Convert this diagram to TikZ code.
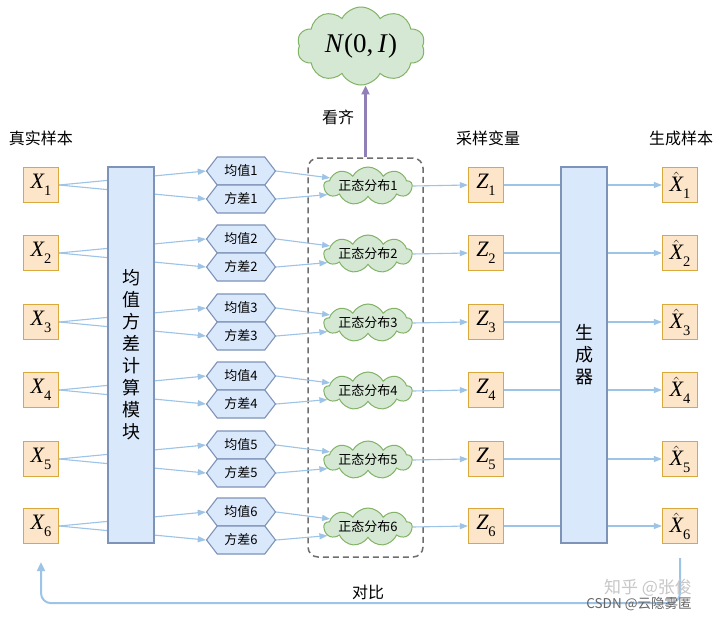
\documentclass[tikz,border=0pt]{standalone}
\usepackage{fontspec}
\newfontfamily\cjk{Noto Sans CJK SC}
\newfontfamily\tms{Liberation Serif}
\usetikzlibrary{shapes.symbols,arrows.meta}
\newcommand\vsym[2]{{\tms\itshape #1}\raisebox{-0.3em}{\tms\fontsize{14.5}{15}\selectfont #2}}
\newcommand\hsym[2]{$\hat{\mbox{\tms\itshape #1}}$\raisebox{-0.3em}{\tms\fontsize{14.5}{15}\selectfont #2}}
\definecolor{xfill}{HTML}{FCE5C8}
\definecolor{xline}{HTML}{D9A93C}
\definecolor{bfill}{HTML}{DAE8FC}
\definecolor{bline}{HTML}{7D93B8}
\definecolor{gfill}{HTML}{D5E8D4}
\definecolor{gline}{HTML}{82B366}
\definecolor{arr}{HTML}{9DC3E6}
\definecolor{purp}{HTML}{9180B8}
\definecolor{dashc}{HTML}{6E6E6E}
\tikzset{
  xbox/.style={draw=xline, fill=xfill, line width=1.3pt, minimum width=35pt, minimum height=35pt, inner sep=0pt, font=\fontsize{22}{24}\selectfont},
  hexn/.style={shape=signal, signal to=west and east, signal pointer angle=105, draw=bline, fill=bfill, line width=1.1pt, minimum width=69pt, minimum height=28pt, inner sep=1pt, font=\cjk\fontsize{13}{14}\selectfont},
  cloudn/.style={shape=cloud, cloud puffs=9, cloud puff arc=125, cloud ignores aspect, draw=gline, fill=gfill, line width=1pt, inner sep=0pt},
  colbox/.style={draw=bline, fill=bfill, line width=1.1pt, minimum width=46pt, minimum height=376pt, inner sep=0pt, align=center, font=\cjk\fontsize{18}{22}\selectfont},
  bl/.style={draw=arr, line width=1.1pt, -{Triangle[length=8pt,width=6pt]}},
  lab/.style={font=\cjk\fontsize{16}{18}\selectfont, inner sep=0pt},
}
\begin{document}
\begin{tikzpicture}[x=1pt,y=-1pt]
\useasboundingbox[fill=white] (0,0) rectangle (720,621);

% column labels
\node[lab] (t1) at (41,138) {真实样本};
\node[lab] (t2) at (488,138) {采样变量};
\node[lab] (t3) at (681,138) {生成样本};

% dashed group box
\node[draw=dashc, line width=1.5pt, dash pattern=on 6pt off 4pt, rounded corners=10pt, minimum width=115pt, minimum height=399pt] (grp) at (365.5,357.5) {};

% N(0,I) cloud
\node[cloudn, cloud puffs=10, minimum width=128pt, minimum height=78pt, label={center:{\tms\fontsize{27}{30}\selectfont\textit{N}(0,\,\textit{I})}}] (nc) at (361,46) {};
\draw[draw=purp, line width=2.5pt, -{Triangle[length=9pt,width=8pt]}] (grp.north) -- (grp.north |- nc.south);
\node[lab] (kq) at (338,117) {看齐};

% rows
\foreach \i/\y in {1/185,2/253,3/322,4/390,5/459,6/526}{
  \node[xbox] (x\i) at (41,\y) {\vsym{X}{\i}};
  \node[hexn] (m\i) at (241,\y-14) {均值\i};
  \node[hexn] (v\i) at (241,\y+14) {方差\i};
  \node[cloudn, minimum width=88pt, minimum height=38pt, label={center:{\cjk\fontsize{13}{14}\selectfont 正态分布\i}}] (c\i) at (368,\y+1) {};
  \node[xbox] (z\i) at (486,\y) {\vsym{Z}{\i}};
  \node[xbox] (h\i) at (680,\y) {\hsym{X}{\i}};
  \draw[bl] (x\i.east) -- (m\i.west);
  \draw[bl] (x\i.east) -- (v\i.west);
  \draw[bl] (m\i.east) -- (c\i.168);
  \draw[bl] (v\i.east) -- (c\i.192);
  \draw[bl] (c\i.east) -- (z\i.west);
  \draw[bl] (z\i.east) -- (h\i.west);
}

% processing columns drawn over the connectors
\node[colbox] (mod) at (131,355) {均\\值\\方\\差\\计\\算\\模\\块};
\node[colbox] (gen) at (584,355) {生\\成\\器};

% feedback
\coordinate (fbs) at ([yshift=-14pt]h6.south);
\coordinate (fbe) at ([yshift=-18pt]x6.south);
\draw[draw=arr, line width=2pt, rounded corners=10pt, -{Triangle[length=9pt,width=8pt]}] (fbs) -- ++(0,45) -| (fbe);
\node[lab] (db) at (368,592) {对比};

% watermarks
\node[font=\cjk\fontsize{17}{19}\selectfont, text=black!22, inner sep=0pt] (wm1) at (648,588) {知乎 @张俊};
\node[font=\cjk\fontsize{13.5}{15}\selectfont, text=black!60, inner sep=0pt] (wm2) at (639,604) {CSDN @云隐雾匿};
\end{tikzpicture}
\end{document}
